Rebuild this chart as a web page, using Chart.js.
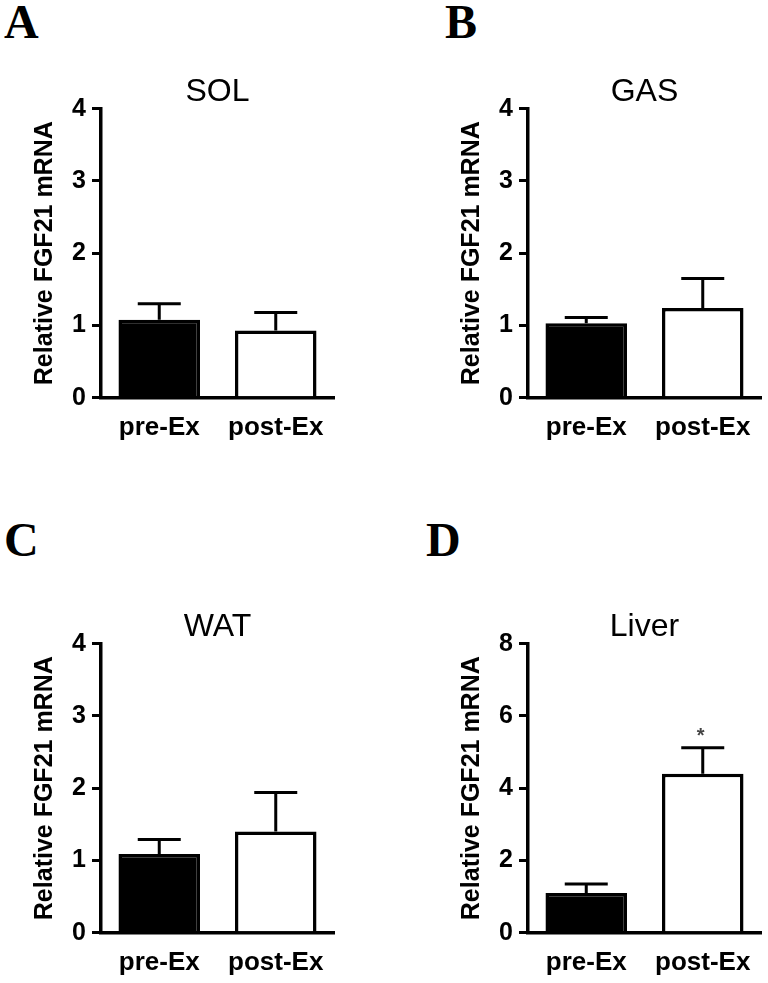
<!DOCTYPE html>
<html>
<head>
<meta charset="utf-8">
<script src="https://cdn.jsdelivr.net/npm/chart.js@4.4.0/dist/chart.umd.min.js"></script>
<style>
  body { margin: 0; background: #fff; width: 768px; height: 983px; position: relative; overflow: hidden; }
  canvas { position: absolute; }
  .letter {
    position: absolute;
    font-family: "Liberation Serif", "Times New Roman", serif;
    font-weight: bold;
    font-size: 48px;
    line-height: 1;
    color: #000;
  }
</style>
</head>
<body>
<div class="letter" style="left:4px;top:-2px">A</div>
<div class="letter" style="left:445px;top:-2px">B</div>
<div class="letter" style="left:4px;top:516px">C</div>
<div class="letter" style="left:426px;top:516px">D</div>

<canvas id="sol" width="341" height="460" style="left:0px;top:0px"></canvas>
<canvas id="gas" width="341" height="460" style="left:427px;top:0px"></canvas>
<canvas id="wat" width="341" height="448" style="left:0px;top:535px"></canvas>
<canvas id="liver" width="341" height="448" style="left:427px;top:535px"></canvas>

<script>
// groups on the x axis
const groups = ["pre-Ex", "post-Ex"];

// mean and SEM per tissue
const solMean = [1.08, 0.93];
const solSem = [0.22, 0.25];
const gasMean = [1.03, 1.24];
const gasSem = [0.08, 0.41];
const watMean = [1.09, 1.40];
const watSem = [0.20, 0.54];
const liverMean = [1.10, 4.40];
const liverSem = [0.25, 0.72];
const liverSig = ["", "*"];

// y tick labels
const ticksMuscle = [0, 1, 2, 3, 4];
const ticksLiver = [0, 2, 4, 6, 8];

Chart.defaults.color = "#000";
Chart.defaults.font.family = "'Liberation Sans', Arial, sans-serif";

// plot box inside each canvas
const areaLeft = 101;
const areaTop = 108.7;
const areaBottom = 397.7;
const titleLH = 33.6;

function makeErrorBars(mean, sem, sig) {
  return {
    id: "errorBars",
    afterDatasetsDraw(chart) {
      const ctx = chart.ctx;
      const y = chart.scales.y;
      const meta = chart.getDatasetMeta(0);
      ctx.save();
      ctx.strokeStyle = "#000";
      ctx.lineWidth = 3;
      meta.data.forEach((bar, i) => {
        const top = y.getPixelForValue(mean[i] + sem[i]);
        ctx.beginPath();
        ctx.moveTo(bar.x, bar.y);
        ctx.lineTo(bar.x, top);
        ctx.moveTo(bar.x - 21.5, top);
        ctx.lineTo(bar.x + 21.5, top);
        ctx.stroke();
        // significance mark above the bar
        if (sig && sig[i]) {
          ctx.fillStyle = "#444";
          ctx.font = "bold 20px 'Liberation Sans', Arial";
          ctx.textAlign = "center";
          ctx.textBaseline = "alphabetic";
          ctx.fillText(sig[i], bar.x - 2, top - 6);
        }
      });
      ctx.restore();
    }
  };
}

function makeChart(id, title, mean, sem, ticks, sig) {
  const canvas = document.getElementById(id);
  const h = canvas.height;
  return new Chart(canvas, {
    type: "bar",
    data: {
      labels: groups,
      datasets: [{
        data: mean,
        backgroundColor: ["#000", "#fff"],
        borderColor: "#000",
        borderWidth: 3.5,
        barPercentage: 0.7,
        categoryPercentage: 1
      }]
    },
    options: {
      responsive: false,
      animation: false,
      devicePixelRatio: 1,
      layout: { padding: { top: areaTop - titleLH, right: 7, bottom: 0, left: 0 } },
      plugins: {
        legend: { display: false },
        tooltip: { enabled: false },
        title: {
          display: true,
          fullSize: false, // centre over the plot, not the canvas
          text: title,
          color: "#000",
          font: { size: 32, weight: "normal", lineHeight: 1.05 },
          padding: { top: 0, bottom: 0 }
        }
      },
      scales: {
        x: {
          grid: { display: false, drawTicks: false },
          border: { display: true, color: "#000", width: 3.5 },
          ticks: { font: { size: 26, weight: "bold" }, padding: 15, color: "#000" },
          afterFit: (s) => { s.height = h - areaBottom; }
        },
        y: {
          min: ticks[0],
          max: ticks[ticks.length - 1],
          afterBuildTicks: (s) => { s.ticks = ticks.map((v) => ({ value: v })); },
          grid: { display: true, drawOnChartArea: false, drawTicks: true, tickLength: 9, lineWidth: 3, color: "#000" },
          border: { display: true, color: "#000", width: 3.5 },
          ticks: { font: { size: 25, weight: "bold" }, padding: 6, color: "#000" },
          title: {
            display: true,
            text: "Relative FGF21 mRNA",
            color: "#000",
            font: { size: 25, weight: "bold" },
            padding: { top: 30, bottom: 0 }
          },
          afterFit: (s) => { s.width = areaLeft; }
        }
      }
    },
    plugins: [makeErrorBars(mean, sem, sig)]
  });
}

makeChart("sol", "SOL", solMean, solSem, ticksMuscle);
makeChart("gas", "GAS", gasMean, gasSem, ticksMuscle);
makeChart("wat", "WAT", watMean, watSem, ticksMuscle);
makeChart("liver", "Liver", liverMean, liverSem, ticksLiver, liverSig);
</script>
</body>
</html>
